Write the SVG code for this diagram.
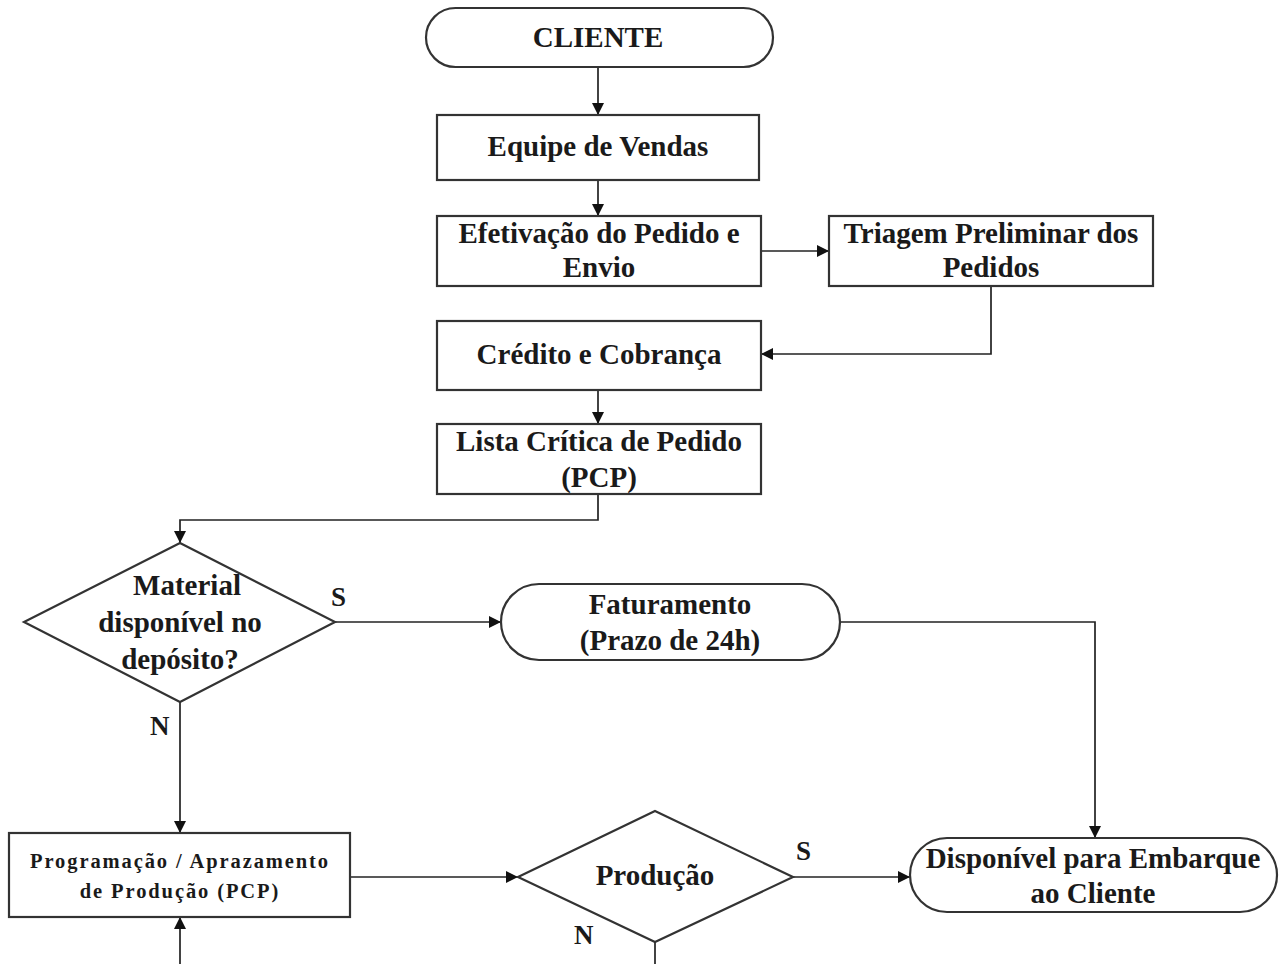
<svg xmlns="http://www.w3.org/2000/svg" width="1286" height="964" viewBox="0 0 1286 964">
  <defs>
    <marker id="arrow" viewBox="0 0 12 12" refX="12" refY="6" markerWidth="12" markerHeight="12" markerUnits="userSpaceOnUse" orient="auto">
      <path d="M0,0 L12,6 L0,12 z" fill="#111"/>
    </marker>
    <style>
      .box { fill: #fff; stroke: #333; stroke-width: 2.2; }
      .t { font-family: "Liberation Serif", "Times New Roman", serif; font-weight: bold; font-size: 29px; fill: #1a1a1a; text-anchor: middle; }
      .small { font-size: 20.5px; letter-spacing: 1.9px; }
      .lbl { font-family: "Liberation Serif", "Times New Roman", serif; font-weight: bold; font-size: 27px; fill: #1a1a1a; }
      .edge { fill: none; stroke: #222; stroke-width: 1.7; }
    </style>
  </defs>
  <rect width="1286" height="964" fill="#fff"/>

  <g id="connectors">
    <path class="edge" d="M598,67 V115" marker-end="url(#arrow)"/>
    <path class="edge" d="M598,180 V216" marker-end="url(#arrow)"/>
    <path class="edge" d="M761,251 H829" marker-end="url(#arrow)"/>
    <path class="edge" d="M991,286 V354 H761" marker-end="url(#arrow)"/>
    <path class="edge" d="M598,390 V424" marker-end="url(#arrow)"/>
    <path class="edge" d="M598,494 V520 H180 V543" marker-end="url(#arrow)"/>
    <path class="edge" d="M335,622 H501" marker-end="url(#arrow)"/>
    <path class="edge" d="M840,622 H1095 V838" marker-end="url(#arrow)"/>
    <path class="edge" d="M180,702 V833" marker-end="url(#arrow)"/>
    <path class="edge" d="M350,877 H518" marker-end="url(#arrow)"/>
    <path class="edge" d="M793,877 H910" marker-end="url(#arrow)"/>
    <path class="edge" d="M655,942 V964"/>
    <path class="edge" d="M180,964 V917" marker-end="url(#arrow)"/>
    <text class="lbl" x="331" y="606">S</text>
    <text class="lbl" x="150" y="735">N</text>
    <text class="lbl" x="796" y="860">S</text>
    <text class="lbl" x="574" y="944">N</text>
  </g>

  <g id="cliente">
    <rect class="box" x="426" y="8" width="347" height="59" rx="29.5"/>
    <text class="t" x="598" y="47">CLIENTE</text>
  </g>

  <g id="equipe-vendas">
    <rect class="box" x="437" y="115" width="322" height="65"/>
    <text class="t" x="598" y="156">Equipe de Vendas</text>
  </g>

  <g id="efetivacao">
    <rect class="box" x="437" y="216" width="324" height="70"/>
    <text class="t" x="599" y="243">Efetivação do Pedido e</text>
    <text class="t" x="599" y="277">Envio</text>
  </g>

  <g id="triagem">
    <rect class="box" x="829" y="216" width="324" height="70"/>
    <text class="t" x="991" y="243">Triagem Preliminar dos</text>
    <text class="t" x="991" y="277">Pedidos</text>
  </g>

  <g id="credito">
    <rect class="box" x="437" y="321" width="324" height="69"/>
    <text class="t" x="599" y="364">Crédito e Cobrança</text>
  </g>

  <g id="lista-critica">
    <rect class="box" x="437" y="424" width="324" height="70"/>
    <text class="t" x="599" y="451">Lista Crítica de Pedido</text>
    <text class="t" x="599" y="487">(PCP)</text>
  </g>

  <g id="material-disponivel">
    <polygon class="box" points="180,543 335,622 180,702 24,622"/>
    <text class="t" x="187" y="595">Material</text>
    <text class="t" x="180" y="632">disponível no</text>
    <text class="t" x="180" y="669">depósito?</text>
  </g>

  <g id="faturamento">
    <rect class="box" x="501" y="584" width="339" height="76" rx="38"/>
    <text class="t" x="670" y="614">Faturamento</text>
    <text class="t" x="670" y="650">(Prazo de 24h)</text>
  </g>

  <g id="programacao">
    <rect class="box" x="9" y="833" width="341" height="84"/>
    <text class="t small" x="180" y="868">Programação / Aprazamento</text>
    <text class="t small" x="180" y="898">de Produção (PCP)</text>
  </g>

  <g id="producao">
    <polygon class="box" points="655,811 793,877 655,942 518,877"/>
    <text class="t" x="655" y="885">Produção</text>
  </g>

  <g id="disponivel-embarque">
    <rect class="box" x="910" y="838" width="367" height="74" rx="37"/>
    <text class="t" x="1093" y="868">Disponível para Embarque</text>
    <text class="t" x="1093" y="903">ao Cliente</text>
  </g>
</svg>
